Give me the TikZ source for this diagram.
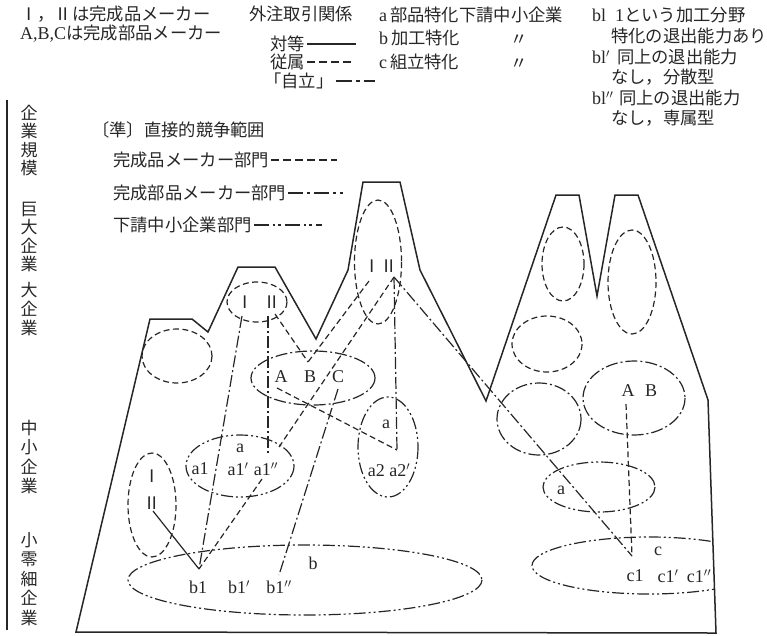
\documentclass[tikz,border=0pt]{standalone}
\usepackage{fontspec}
\setmainfont{Liberation Serif}
\newfontfamily\jpfam{Noto Sans CJK JP}
\newcommand\jpf{\jpfam\fontsize{17.3}{19}\selectfont}
\newcommand\jpv{\jpfam\fontsize{17}{18.6}\selectfont}
\newcommand\jpw{\jpfam\fontsize{17}{19.4}\selectfont}
\newcommand\latf{\rmfamily\fontsize{18}{20}\selectfont}
\definecolor{inkc}{RGB}{38,38,38}
\tikzset{
  ink/.style={draw=inkc, line width=1.2pt},
  outl/.style={draw=inkc, line width=1.5pt, line join=miter},
  dsh/.style={ink, dash pattern=on 6pt off 3.5pt},
  ddot/.style={ink, dash pattern=on 12pt off 3pt on 2pt off 3pt},
  dddot/.style={ink, dash pattern=on 12pt off 3pt on 2pt off 3pt on 2pt off 3pt},
  jt/.style={inner sep=0pt, font=\jpf, text=inkc},
  lt/.style={inner sep=0pt, font=\latf, text=inkc},
}
\begin{document}
\begin{tikzpicture}[x=1pt,y=-1pt]
\useasboundingbox (0,0) rectangle (767,635);
% ---------- top legends ----------
\node[jt, anchor=west] (n1) at (20,14) {Ⅰ，Ⅱは完成品メーカー};
\node[jt, anchor=west] (n2) at (20,34) {{\latf A,B,C}は完成部品メーカー};
\node[jt, anchor=west] (gai) at (249,14) {外注取引関係};
\node[jt, anchor=west] (tai) at (270,44) {対等};
\node[jt, anchor=west] (juz) at (270,62) {従属};
\node[jt, anchor=west] (jir) at (264,81) {「自立」};
\coordinate (taiE) at (356,44);
\coordinate (juzE) at (353,62);
\coordinate (jirE) at (375,81);
\draw[ink] ([xshift=2pt]tai.east) -- (taiE);
\draw[ink, dash pattern=on 8pt off 4pt] ([xshift=2pt]juz.east) -- (juzE);
\draw[ink, dash pattern=on 16pt off 4pt on 4pt off 4pt] ([xshift=2pt]jir.east) -- (jirE);
\node[jt, anchor=west] (la) at (379,15) {{\latf a}\,部品特化下請中小企業};
\node[jt, anchor=west] (lb) at (379,38) {{\latf b}\,加工特化};
\node[jt, anchor=west] (lc) at (379,62) {{\latf c}\,組立特化};
\node[jt] (dtb) at (519,40) {〃};
\node[jt] (dtc) at (519,64) {〃};
\node[jt, anchor=west] (r1) at (592,15) {{\latf bl}\hspace{9pt}{\latf 1}という加工分野};
\node[jt, anchor=west] (r2) at (611,36) {特化の退出能力あり};
\node[jt, anchor=west] (r3) at (592,57) {{\latf bl$'$}\hspace{7pt}同上の退出能力};
\node[jt, anchor=west] (r4) at (611,77) {なし，分散型};
\node[jt, anchor=west] (r5) at (592,98) {{\latf bl$''$}\hspace{6pt}同上の退出能力};
\node[jt, anchor=west] (r6) at (611,118) {なし，専属型};
% ---------- axis ----------
\coordinate (axT) at (7,100);
\coordinate (axB) at (7,630);
\draw[outl] (axT) -- (axB);
\node[jt, font=\jpv, align=center] (ax1) at (29,140.5) {企\\業\\規\\模};
\node[jt, font=\jpv, align=center] (ax2) at (29,237) {巨\\大\\企\\業};
\node[jt, font=\jpv, align=center] (ax3) at (29,309) {大\\企\\業};
\node[jt, font=\jpw, align=center] (ax4) at (29,457) {中\\小\\企\\業};
\node[jt, font=\jpw, align=center] (ax5) at (29,579) {小\\零\\細\\企\\業};
% ---------- middle legend ----------
\node[jt, anchor=west] (jun) at (92,130) {〔準〕直接的競争範囲};
\node[jt, anchor=west] (k1) at (113,160) {完成品メーカー部門};
\node[jt, anchor=west] (k2) at (113,193) {完成部品メーカー部門};
\node[jt, anchor=west] (k3) at (113,225) {下請中小企業部門};
\coordinate (k1E) at (337,160);
\coordinate (k2E) at (343,193);
\coordinate (k3E) at (322,225);
\draw[ink, dash pattern=on 8pt off 4pt] ([xshift=2pt]k1.east) -- (k1E);
\draw[ink, dash pattern=on 15pt off 4pt on 3pt off 4pt] ([xshift=2pt]k2.east) -- (k2E);
\draw[ink, dash pattern=on 15pt off 4pt on 2.5pt off 3pt on 2.5pt off 4pt] ([xshift=2pt]k3.east) -- (k3E);
% ---------- outline ----------
\def\outline{(76,632) -- (150,319) -- (192,319) -- (208,332) -- (238,267) -- (275,267) -- (316,339) -- (348,270) -- (363,182) -- (400,182) -- (420,270) -- (486,401) -- (556,195) -- (579,195) -- (597,296) -- (615,195) -- (638,195) -- (708,400) -- (716,633) -- cycle}
\draw[outl] \outline;
% ---------- ellipses ----------
\draw[dsh] (177,356) ellipse (35 and 27);
\draw[dsh] (257,302) ellipse (30 and 20);
\draw[dsh] (378,262) ellipse (23.5 and 62);
\draw[ddot] (313,378) ellipse (62 and 27);
\draw[dddot] (388,447) ellipse (30 and 50);
\draw[dddot] (240,466) ellipse (54 and 31);
\draw[dsh] (152,505) ellipse (24 and 52);
\draw[dddot] (305,580) ellipse (177 and 35);
\begin{scope}
\clip \outline;
\draw[dddot] (649,565.5) ellipse (117 and 28.5);
\end{scope}
\draw[dddot] (599,487) ellipse (56 and 25);
\draw[ddot] (634,398) ellipse (51 and 37);
\draw[dsh] (563,264) ellipse (21 and 37);
\draw[dsh] (632,282) ellipse (24 and 52);
\draw[dsh] (547,344) ellipse (35 and 28);
\draw[ddot] (539,419) ellipse (42 and 36);
% ---------- labels ----------
\node[jt] (sI) at (245,302) {Ⅰ};
\node[jt] (sII) at (272,302) {Ⅱ};
\node[jt] (cI) at (372,266) {Ⅰ};
\node[jt] (cII) at (389,266) {Ⅱ};
\node[lt] (lA) at (281,377) {A};
\node[lt] (lB) at (310,377) {B};
\node[lt] (lC) at (338,377) {C};
\node[lt] (a2h) at (386,424) {a};
\node[lt] (a2l) at (389,470) {a2 a2$'$};
\node[lt] (a1h) at (240,448) {a};
\node[lt] (a1) at (200,469) {a1};
\node[lt] (a1p) at (238,469) {a1$'$};
\node[lt] (a1pp) at (266,469) {a1$''$};
\node[jt] (lI) at (152,476) {Ⅰ};
\node[jt] (lII) at (152,503) {Ⅱ};
\node[lt] (bh) at (313,563) {b};
\node[lt] (b1) at (198,587) {b1};
\node[lt] (b1p) at (239,587) {b1$'$};
\node[lt] (b1pp) at (279,587) {b1$''$};
\node[lt] (rA) at (628,391) {A};
\node[lt] (rB) at (651,391) {B};
\node[lt] (ra) at (561,490) {a};
\node[lt] (ch) at (658,551) {c};
\node[lt] (c1) at (635,576) {c1};
\node[lt] (c1p) at (668,576) {c1$'$};
\node[lt] (c1pp) at (699,576) {c1$''$};
% ---------- connector points ----------
\coordinate (vb) at (199,569);
\coordinate (sIb) at (242,316);
\coordinate (sIIb) at (268,316);
\coordinate (sIIr) at (275,314);
\coordinate (vB) at (308,362);
\coordinate (cIb) at (369,281);
\coordinate (apex) at (394,277);
\coordinate (a1t) at (268,455);
\coordinate (a1tr) at (279,447);
\coordinate (a1b) at (262,479);
\coordinate (va2) at (397,450);
\coordinate (Ab) at (277,388);
\coordinate (Cb) at (338,389);
\coordinate (b1t) at (279,575);
\coordinate (vc) at (632,556);
\coordinate (rAb) at (626,404);
\coordinate (lIIb) at (153,511);
% ---------- connectors ----------
\draw[ink] (lIIb) -- (vb);
\draw[ddot] (sIb) -- (vb);
\draw[dsh] (a1b) -- (vb);
\draw[ddot] (sIIb) -- (a1t);
\draw[dsh] (sIIr) -- (vB);
\draw[dsh] (cIb) -- (vB);
\draw[dsh] (apex) -- (a1tr);
\draw[ddot] (apex) -- (va2);
\draw[dsh] (Ab) -- (va2);
\draw[ddot] (Cb) -- (b1t);
\draw[ddot] (apex) -- (vc);
\draw[dsh] (rAb) -- (vc);
\end{tikzpicture}
\end{document}
